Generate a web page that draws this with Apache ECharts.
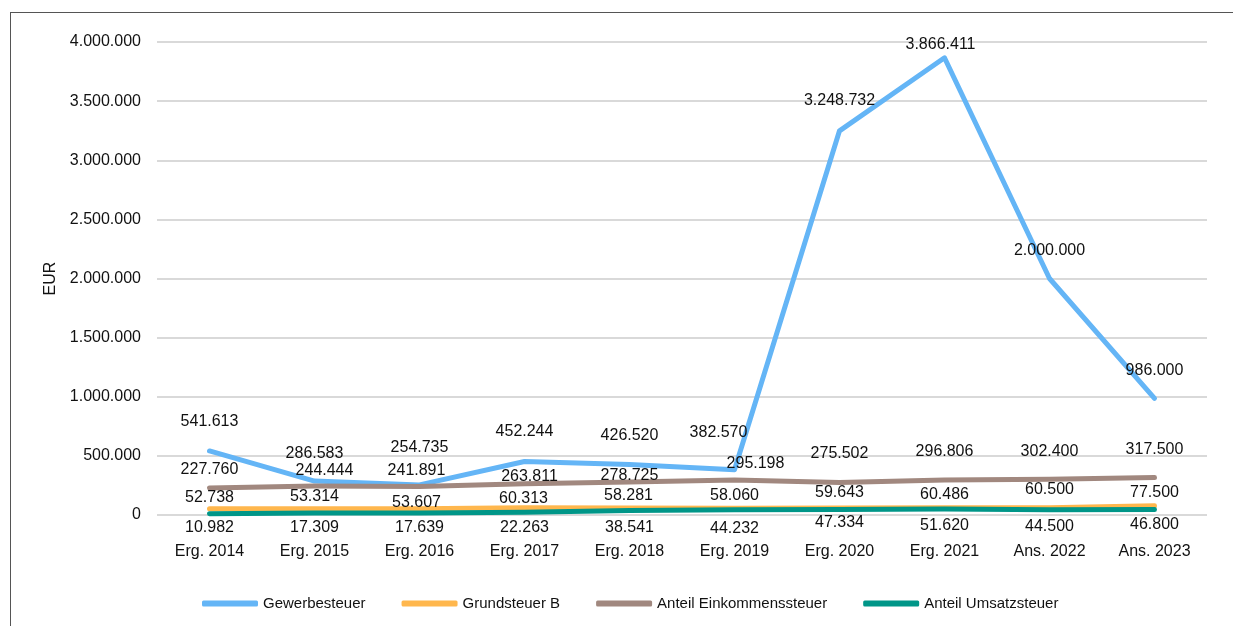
<!DOCTYPE html>
<html>
<head>
<meta charset="utf-8">
<script src="https://cdn.jsdelivr.net/npm/echarts@6/dist/echarts.min.js"></script>
<style>
  html, body { margin: 0; padding: 0; background: #fff; }
  #frame { position: absolute; left: 10px; top: 12px; width: 1400px; height: 800px;
           border-left: 1px solid #555; border-top: 1px solid #555; }
  #main_chart { position: absolute; left: 0; top: 0; width: 1233px; height: 626px; }
</style>
</head>
<body>
<div id="frame"></div>
<div id="main_chart"></div>
<script>
var categories = ['Erg. 2014', 'Erg. 2015', 'Erg. 2016', 'Erg. 2017', 'Erg. 2018',
                  'Erg. 2019', 'Erg. 2020', 'Erg. 2021', 'Ans. 2022', 'Ans. 2023'];

var gewerbesteuer   = [541613, 286583, 254735, 452244, 426520, 382570, 3248732, 3866411, 2000000, 986000];
var grundsteuerB    = [52738, 53314, 53607, 60313, 58281, 58060, 59643, 60486, 60500, 77500];
var einkommensteuer = [227760, 244444, 241891, 263811, 278725, 295198, 275502, 296806, 302400, 317500];
var umsatzsteuer    = [10982, 17309, 17639, 22263, 38541, 44232, 47334, 51620, 44500, 46800];

var yTicks = [0, 500000, 1000000, 1500000, 2000000, 2500000, 3000000, 3500000, 4000000];

// label placement like in the Excel original (pixel shift of the label centre from the point)
var shiftGew = [[0, -29], [0, -28], [0, -37], [0, -30], [0, -29], [-16, -37], [0, -30], [-4, -13], [0, -28], [0, -28]];
var shiftGrund = [[0, -11], [0, -12], [-3, -6], [-1, -9], [-1, -13], [0, -13], [0, -15], [0, -13], [0, -18], [0, -13]];
var shiftEink = [[0, -18], [10, -16], [-3, -16], [5, -7], [0, -6], [21, -16], [0, -29], [0, -28], [0, -28], [0, -28]];
var shiftUms = [[0, 14], [0, 15], [0, 15], [0, 15], [0, 17], [0, 19], [0, 13], [0, 17], [0, 17], [0, 15]];

var FONT = "'Liberation Sans', Arial, sans-serif";

function fmt(v) {
    return String(v).replace(/\B(?=(\d{3})+(?!\d))/g, '.');
}

function withLabels(values, shifts) {
    return values.map(function (v, i) {
        return { value: v, label: { offset: shifts[i] } };
    });
}

function lineSeries(name, color, values, shifts) {
    return {
        name: name,
        type: 'line',
        color: color,
        symbol: 'circle',
        symbolSize: 0,
        showSymbol: true,
        lineStyle: { width: 5, color: color, cap: 'round', join: 'round' },
        label: {
            show: true,
            position: 'inside',
            color: '#111',
            fontFamily: FONT,
            fontSize: 16,
            formatter: function (p) { return fmt(p.value); }
        },
        emphasis: { disabled: true },
        animation: false,
        data: withLabels(values, shifts)
    };
}

var chart = echarts.init(document.getElementById('main_chart'));
chart.setOption({
    backgroundColor: 'transparent',
    grid: { left: 157, right: 26, top: 42, bottom: 111, containLabel: false },
    legend: {
        data: ['Gewerbesteuer', 'Grundsteuer B', 'Anteil Einkommenssteuer', 'Anteil Umsatzsteuer'],
        left: 197,
        top: 591,
        icon: 'roundRect',
        itemWidth: 56,
        itemHeight: 6,
        itemGap: 36,
        textStyle: { color: '#111', fontFamily: FONT, fontSize: 15 },
        selectedMode: false
    },
    xAxis: {
        type: 'category',
        data: categories,
        axisLine: { show: false },
        axisTick: { show: false },
        axisLabel: { color: '#111', fontFamily: FONT, fontSize: 16, margin: 29, interval: 0 }
    },
    yAxis: {
        type: 'value',
        min: 0,
        max: yTicks[yTicks.length - 1],
        interval: yTicks[1] - yTicks[0],
        name: 'EUR',
        nameLocation: 'middle',
        nameRotate: 90,
        nameGap: 96,
        nameTextStyle: { color: '#111', fontFamily: FONT, fontSize: 16 },
        axisLine: { show: false },
        axisTick: { show: false },
        splitLine: { lineStyle: { color: '#d9d9d9', width: 2 } },
        axisLabel: { color: '#111', fontFamily: FONT, fontSize: 16, margin: 16, formatter: fmt }
    },
    series: [
        lineSeries('Gewerbesteuer', '#64B5F6', gewerbesteuer, shiftGew),
        lineSeries('Grundsteuer B', '#FFB74D', grundsteuerB, shiftGrund),
        lineSeries('Anteil Einkommenssteuer', '#A1887F', einkommensteuer, shiftEink),
        lineSeries('Anteil Umsatzsteuer', '#009688', umsatzsteuer, shiftUms)
    ]
});
</script>
</body>
</html>
